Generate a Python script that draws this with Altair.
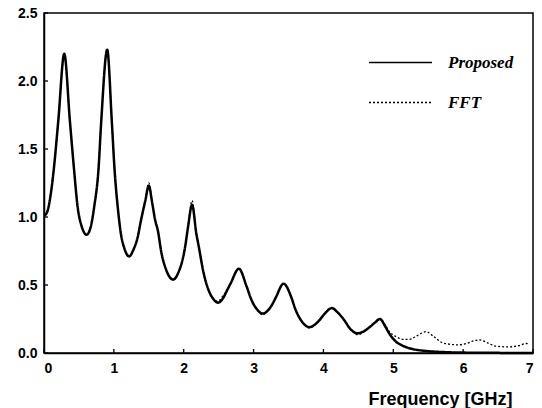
import altair as alt
import pandas as pd

# Frequency [GHz] and magnitude for each series
prop_f = [0.00, 0.04, 0.10, 0.14, 0.205, 0.29, 0.37, 0.43, 0.48, 0.54, 0.61, 0.67, 0.72, 0.78,
          0.82, 0.905, 0.97, 1.01, 1.06, 1.10, 1.15, 1.22, 1.28, 1.34, 1.39, 1.45, 1.50, 1.55,
          1.59, 1.63, 1.68, 1.75, 1.85, 1.93, 1.98, 2.02, 2.06, 2.12, 2.18, 2.22, 2.28, 2.35,
          2.42, 2.49, 2.56, 2.62, 2.67, 2.79, 2.90, 2.97, 3.05, 3.13, 3.20, 3.27, 3.32, 3.43,
          3.54, 3.60, 3.68, 3.80, 3.88, 3.94, 4.02, 4.12, 4.20, 4.30, 4.38, 4.49, 4.58, 4.66,
          4.73, 4.81, 4.88, 4.94, 5.04, 5.13, 5.23, 5.35, 5.47, 5.75, 6.00, 6.50, 7.00]
prop_v = [1.01, 1.03, 1.18, 1.35, 1.71, 2.20, 1.71, 1.35, 1.08, 0.93, 0.87, 0.93, 1.08, 1.35,
          1.71, 2.23, 1.71, 1.35, 1.05, 0.88, 0.77, 0.71, 0.76, 0.85, 0.98, 1.12, 1.23, 1.10,
          0.98, 0.90, 0.74, 0.61, 0.54, 0.60, 0.68, 0.78, 0.92, 1.09, 0.88, 0.77, 0.60, 0.47,
          0.40, 0.37, 0.40, 0.46, 0.51, 0.62, 0.49, 0.39, 0.32, 0.29, 0.31, 0.36, 0.41, 0.51,
          0.41, 0.32, 0.24, 0.19, 0.21, 0.24, 0.29, 0.33, 0.30, 0.24, 0.18, 0.145, 0.16, 0.19,
          0.22, 0.25, 0.20, 0.145, 0.083, 0.055, 0.035, 0.022, 0.015, 0.006, 0.003, 0.001, 0.0]

fft_f = [0.00, 0.04, 0.10, 0.14, 0.205, 0.29, 0.37, 0.43, 0.48, 0.54, 0.61, 0.67, 0.72, 0.78,
         0.82, 0.905, 0.97, 1.01, 1.06, 1.10, 1.15, 1.22, 1.28, 1.34, 1.39, 1.45, 1.50, 1.55,
         1.59, 1.63, 1.68, 1.75, 1.85, 1.93, 1.98, 2.02, 2.06, 2.12, 2.18, 2.22, 2.28, 2.35,
         2.42, 2.49, 2.56, 2.62, 2.67, 2.79, 2.90, 2.97, 3.05, 3.13, 3.20, 3.27, 3.32, 3.43,
         3.54, 3.60, 3.68, 3.80, 3.88, 3.94, 4.02, 4.12, 4.20, 4.30, 4.38, 4.49, 4.58, 4.66,
         4.73, 4.81, 4.88, 4.94, 5.04, 5.15, 5.23, 5.35, 5.47, 5.58, 5.70, 5.80, 5.92, 6.05,
         6.15, 6.23, 6.35, 6.47, 6.66, 6.80, 6.90, 6.95]
fft_v = [1.01, 1.03, 1.18, 1.35, 1.71, 2.19, 1.71, 1.35, 1.08, 0.93, 0.87, 0.93, 1.08, 1.35,
         1.71, 2.22, 1.71, 1.35, 1.05, 0.88, 0.77, 0.71, 0.76, 0.85, 0.98, 1.12, 1.25, 1.10,
         0.98, 0.90, 0.74, 0.61, 0.54, 0.60, 0.68, 0.78, 0.92, 1.12, 0.88, 0.77, 0.60, 0.47,
         0.40, 0.38, 0.42, 0.46, 0.51, 0.62, 0.49, 0.39, 0.32, 0.28, 0.31, 0.36, 0.41, 0.51,
         0.41, 0.32, 0.24, 0.185, 0.21, 0.24, 0.29, 0.33, 0.30, 0.24, 0.18, 0.135, 0.155, 0.19,
         0.22, 0.25, 0.21, 0.16, 0.12, 0.10, 0.10, 0.13, 0.157, 0.12, 0.076, 0.065, 0.06, 0.07,
         0.09, 0.096, 0.075, 0.05, 0.045, 0.055, 0.07, 0.065]

series = ["Proposed", "FFT"]

df = pd.concat([
    pd.DataFrame({"f": prop_f, "v": prop_v, "s": series[0], "o": range(len(prop_f))}),
    pd.DataFrame({"f": fft_f, "v": fft_v, "s": series[1], "o": range(len(fft_f))}),
])

x_ticks = [0, 1, 2, 3, 4, 5, 6, 7]
y_ticks = [0.0, 0.5, 1.0, 1.5, 2.0, 2.5]

xscale = alt.Scale(domain=[0, 7], nice=False)
yscale = alt.Scale(domain=[0, 2.5], nice=False)

lines = alt.Chart(df).mark_line(color="black", strokeCap="butt", interpolate="monotone").encode(
    x=alt.X("f:Q", scale=xscale,
            axis=alt.Axis(values=x_ticks, format="d", title="Frequency [GHz]", ticks=False,
                          titleX=468, titleY=51, titleAlign="right", titleAnchor="end",
                          titleBaseline="alphabetic", titleFontSize=18,
                          labelPadding=8)),
    y=alt.Y("v:Q", scale=yscale,
            axis=alt.Axis(values=y_ticks, format=".1f", title=None, ticks=False, labelPadding=7)),
    order="o:Q",
    strokeDash=alt.StrokeDash("s:N", scale=alt.Scale(domain=series, range=[[1, 0], [2, 2]]),
                              legend=alt.Legend(title=None, orient="none", legendX=345, legendY=38,
                                                symbolType="M-3,0H3", symbolSize=441,
                                                symbolStrokeWidth=1.4,
                                                symbolStrokeColor="black", labelOffset=36,
                                                labelFont="Liberation Serif", labelFontSize=17,
                                                labelFontStyle="italic", labelFontWeight="bold",
                                                labelColor="black", rowPadding=20)),
    strokeWidth=alt.condition(alt.datum.s == "Proposed", alt.value(2.5), alt.value(1.3)),
)

xt = alt.Chart(pd.DataFrame({"t": x_ticks})).mark_rule(color="black", strokeWidth=1.3).encode(
    x=alt.X("t:Q", scale=xscale), y=alt.value(340), y2=alt.value(336))
yt = alt.Chart(pd.DataFrame({"t": y_ticks})).mark_rule(color="black", strokeWidth=1.3).encode(
    y=alt.Y("t:Q", scale=yscale), x=alt.value(0), x2=alt.value(4))

chart = alt.layer(lines, xt, yt).properties(
    width=489, height=340,
    autosize=alt.AutoSizeParams(type="none"),
    padding={"left": 44, "top": 13, "right": 9, "bottom": 55},
).configure_view(
    stroke="black", strokeWidth=1.5
).configure_axis(
    grid=False, domainColor="black", domainWidth=1.5,
    labelFont="Liberation Sans", labelFontSize=14,
    labelFontWeight="bold", labelColor="black", titleFont="Liberation Sans",
    titleFontWeight="bold", titleColor="black"
)

chart.save("out.html", embed_options={"renderer": "svg", "actions": False})
